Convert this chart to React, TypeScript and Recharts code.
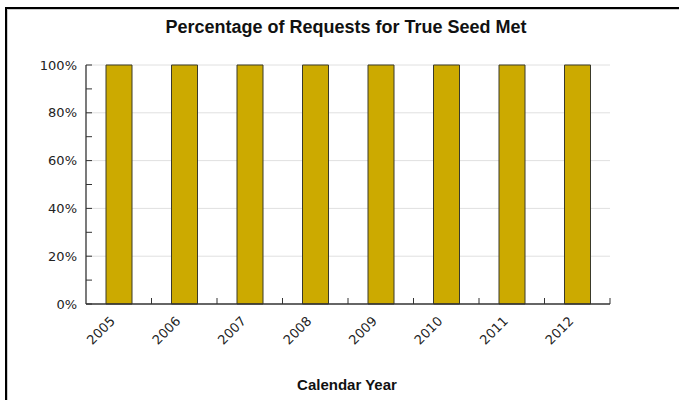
import React from "react";
import { BarChart, Bar, XAxis, YAxis, CartesianGrid } from "recharts";

const years = ["2005", "2006", "2007", "2008", "2009", "2010", "2011", "2012"];
const percentMet = [100, 100, 100, 100, 100, 100, 100, 100];
const yTicks = [0, 10, 20, 30, 40, 50, 60, 70, 80, 90, 100];
const gridValues = [20, 40, 60, 80, 100];

const data = years.map((y, i) => ({ year: y, value: percentMet[i] }));

const AXIS = "#333";
const TICK_FONT = "'DejaVu Sans', Verdana, sans-serif";

const YTick = (props: any) => {
  const { x, y, payload } = props;
  const v = payload.value as number;
  const major = v % 20 === 0;
  return (
    <g>
      <line x1={x} x2={x + 6} y1={y} y2={y} stroke={AXIS} strokeWidth={1} />
      {major && (
        <text
          x={x - 9}
          y={y}
          dy={4.5}
          textAnchor="end"
          fontFamily={TICK_FONT}
          fontSize={13}
          fill="#222"
        >
          {v + "%"}
        </text>
      )}
    </g>
  );
};

const XTick = (props: any) => {
  const { x, y, payload } = props;
  const off = payload.offset ?? 32.75;
  const tx = x - 3;
  const ty = y + 18;
  return (
    <g>
      <line x1={x + off} x2={x + off} y1={y} y2={y - 6} stroke={AXIS} strokeWidth={1} />
      <text
        x={tx}
        y={ty}
        textAnchor="end"
        transform={`rotate(-45, ${tx}, ${ty})`}
        fontFamily={TICK_FONT}
        fontSize={13}
        fill="#222"
      >
        {payload.value}
      </text>
    </g>
  );
};

export default function App() {
  return (
    <div
      style={{
        position: "absolute",
        left: 0,
        top: 0,
        width: 679,
        height: 400,
        background: "#fff",
        overflow: "hidden",
      }}
    >
      <div
        style={{
          position: "absolute",
          left: 5,
          top: 7,
          width: 700,
          height: 400,
          borderTop: "2px solid #000",
          borderLeft: "2px solid #000",
          boxShadow: "inset 1px 1px 0 #ccc",
        }}
      />
      <div
        style={{
          position: "absolute",
          left: 0,
          top: 17,
          width: 692,
          textAlign: "center",
          fontFamily: "'Liberation Sans', Arial, sans-serif",
          fontWeight: "bold",
          fontSize: 18,
          color: "#111",
        }}
      >
        Percentage of Requests for True Seed Met
      </div>
      <div
        style={{
          position: "absolute",
          left: 0,
          top: 376,
          width: 694,
          textAlign: "center",
          fontFamily: "'Liberation Sans', Arial, sans-serif",
          fontWeight: "bold",
          fontSize: 15,
          color: "#111",
        }}
      >
        Calendar Year
      </div>
      <div style={{ position: "absolute", left: 0, top: 0 }}>
        <BarChart
          width={679}
          height={400}
          data={data}
          margin={{ top: 65, right: 69, left: 36, bottom: 0 }}
        >
          <CartesianGrid
            horizontal={true}
            vertical={false}
            stroke="#e0e0e0"
            horizontalValues={gridValues}
          />
          <XAxis
            dataKey="year"
            height={96}
            interval={0}
            tickSize={0}
            tickMargin={0}
            tickLine={false}
            axisLine={{ stroke: AXIS, strokeWidth: 1.3 }}
            tick={<XTick />}
          />
          <YAxis
            width={50}
            domain={[0, 100]}
            ticks={yTicks}
            interval={0}
            tickSize={0}
            tickMargin={0}
            tickLine={false}
            axisLine={{ stroke: AXIS, strokeWidth: 1.3 }}
            tick={<YTick />}
          />
          <Bar
            dataKey="value"
            fill="#CCAA00"
            stroke="#3a3a2a"
            strokeWidth={1}
            barSize={26}
            isAnimationActive={false}
          />
        </BarChart>
      </div>
    </div>
  );
}
